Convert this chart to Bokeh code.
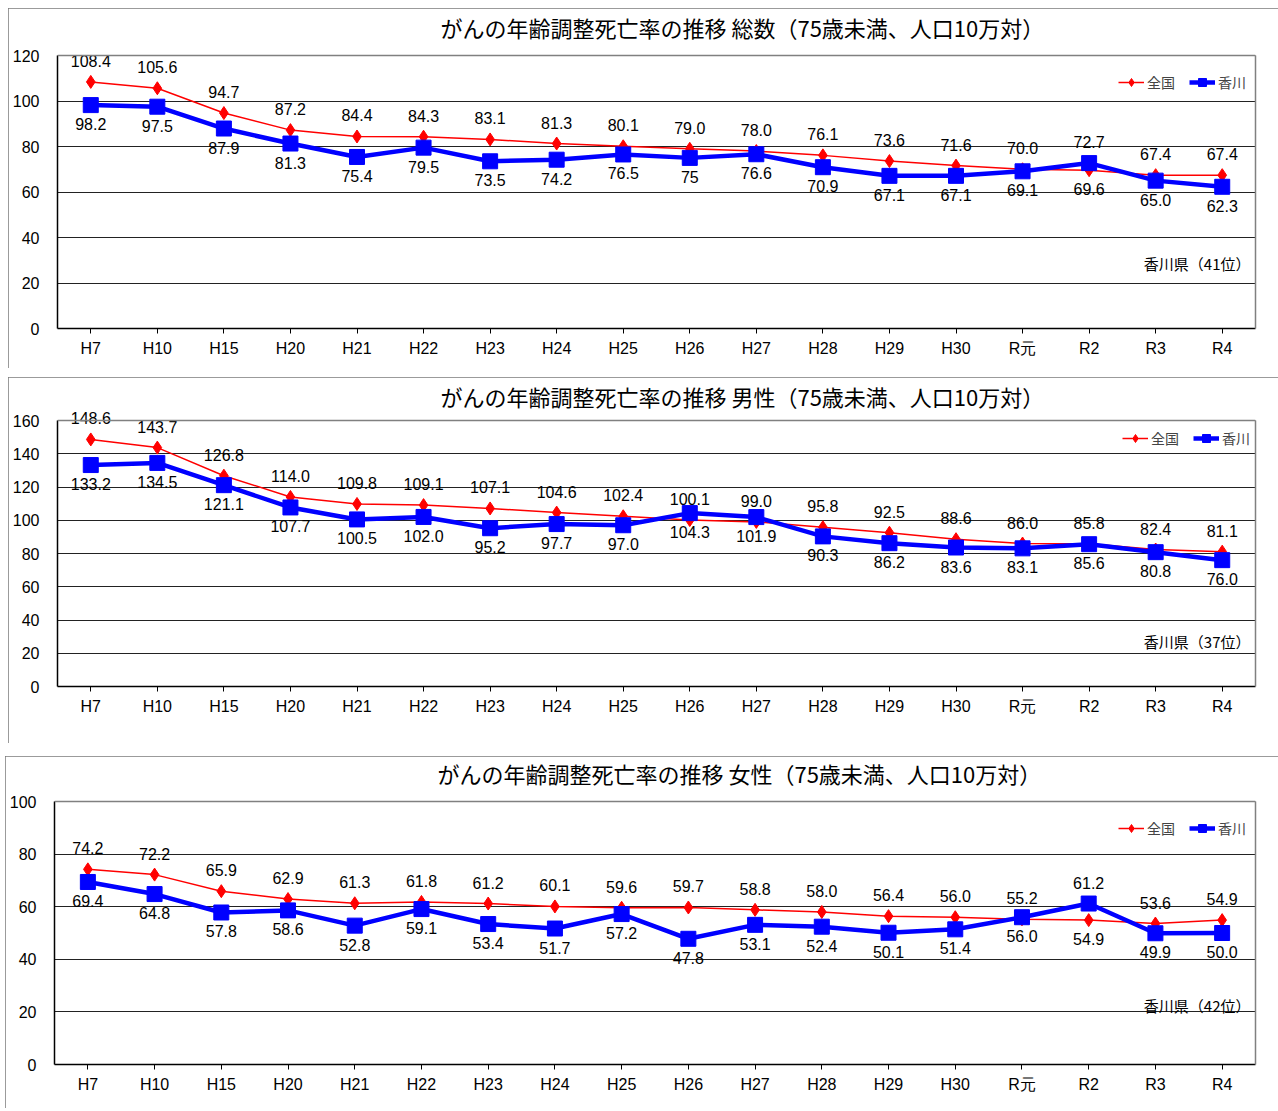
from bokeh.plotting import figure
from bokeh.models import (FactorRange, Range1d, Legend, LegendItem, Label,
                          ColumnDataSource, LinearAxis, FixedTicker, Span)
from bokeh.layouts import column
from bokeh.embed import file_html
from bokeh.resources import INLINE
from bokeh.core.properties import value

# ---------------- data ----------------
categories = ["H7", "H10", "H15", "H20", "H21", "H22", "H23", "H24", "H25",
              "H26", "H27", "H28", "H29", "H30", "R元", "R2", "R3", "R4"]

# 総数
national_total = [108.4, 105.6, 94.7, 87.2, 84.4, 84.3, 83.1, 81.3, 80.1,
                  79.0, 78.0, 76.1, 73.6, 71.6, 70.0, 69.6, 67.4, 67.4]
kagawa_total = [98.2, 97.5, 87.9, 81.3, 75.4, 79.5, 73.5, 74.2, 76.5,
                75.0, 76.6, 70.9, 67.1, 67.1, 69.1, 72.7, 65.0, 62.3]
# 男性
national_male = [148.6, 143.7, 126.8, 114.0, 109.8, 109.1, 107.1, 104.6, 102.4,
                 100.1, 99.0, 95.8, 92.5, 88.6, 86.0, 85.8, 82.4, 81.1]
kagawa_male = [133.2, 134.5, 121.1, 107.7, 100.5, 102.0, 95.2, 97.7, 97.0,
               104.3, 101.9, 90.3, 86.2, 83.6, 83.1, 85.6, 80.8, 76.0]
# 女性
national_female = [74.2, 72.2, 65.9, 62.9, 61.3, 61.8, 61.2, 60.1, 59.6,
                   59.7, 58.8, 58.0, 56.4, 56.0, 55.2, 54.9, 53.6, 54.9]
kagawa_female = [69.4, 64.8, 57.8, 58.6, 52.8, 59.1, 53.4, 51.7, 57.2,
                 47.8, 53.1, 52.4, 50.1, 51.4, 56.0, 61.2, 49.9, 50.0]

titles = ["がんの年齢調整死亡率の推移 総数（75歳未満、人口10万対）",
          "がんの年齢調整死亡率の推移 男性（75歳未満、人口10万対）",
          "がんの年齢調整死亡率の推移 女性（75歳未満、人口10万対）"]
rank_texts = ["香川県（41位）", "香川県（37位）", "香川県（42位）"]
rank_values = [28.6, 27.0, 22.4]
y_maxes = [120, 160, 100]
series_names = ["全国", "香川"]

NUM_FONT = "Liberation Sans"
CJK_FONT = "Noto Sans CJK JP"
RED = "#FF0000"
BLUE = "#0000FF"
TITLE_PANEL = 34  # height taken by the title above the frame (px)


def fmt(v):
    return f"{v:.1f}"


def make_panel(idx, nat, kag, width, height, mb_left, mb_right,
               inner_top, inner_h, swap_idx, text_overrides, legend_x,
               legend_center_from_top, title_offset, title_valign="bottom"):
    ymax = y_maxes[idx]
    headroom = inner_top - TITLE_PANEL
    yend = ymax + headroom * ymax / inner_h
    mb_bottom = height - inner_top - inner_h
    p = figure(x_range=FactorRange(factors=categories),
               y_range=Range1d(0, yend),
               width=width, height=height,
               output_backend="svg", toolbar_location=None,
               min_border_left=mb_left, min_border_right=mb_right,
               min_border_top=TITLE_PANEL, min_border_bottom=mb_bottom,
               background_fill_color="white", border_fill_color="white")
    p.title.text = titles[idx]
    p.title.align = "left"
    p.title.offset = title_offset
    p.title.text_font = CJK_FONT
    p.title.text_font_size = "22px"
    p.title.text_font_style = "normal"
    p.title.text_color = "#000000"
    p.title.standoff = 0
    p.title.vertical_align = title_valign

    p.outline_line_color = None
    p.xgrid.visible = False
    p.ygrid.grid_line_color = "#222222"
    p.ygrid.grid_line_width = 1

    p.yaxis.ticker = list(range(0, ymax + 1, 20))
    p.yaxis.bounds = (0, ymax)
    p.yaxis.major_tick_out = 0
    p.yaxis.major_tick_in = 0
    p.yaxis.minor_tick_out = 0
    p.yaxis.minor_tick_in = 0
    p.yaxis.major_label_standoff = 18
    p.yaxis.axis_line_color = "#000000"
    p.yaxis.axis_line_width = 1.5

    p.xaxis.major_tick_out = 5
    p.xaxis.major_tick_in = 0
    p.xaxis.major_label_standoff = 6
    p.xaxis.axis_line_color = "#000000"
    p.xaxis.axis_line_width = 1.5
    p.xaxis.major_tick_line_color = "#000000"

    for ax in (p.xaxis[0], p.yaxis[0]):
        ax.major_label_text_font = NUM_FONT
        ax.major_label_text_font_size = "16px"
        ax.major_label_text_color = "#000000"

    # plot-area border: gray line along the top value and the right side
    p.add_layout(Span(location=ymax, dimension="width",
                      line_color="#808080", line_width=1.5))
    right_axis = LinearAxis(bounds=(0, ymax), ticker=FixedTicker(ticks=[]),
                            axis_line_color="#808080", axis_line_width=1.5,
                            major_tick_line_color=None,
                            minor_tick_line_color=None,
                            major_label_text_font_size="0px")
    p.add_layout(right_axis, "right")

    src = ColumnDataSource(dict(x=categories, nat=nat, kag=kag))
    l_nat = p.line("x", "nat", source=src, line_color=RED, line_width=1.5)
    s_nat = p.scatter("x", "nat", source=src, marker="diamond", size=13,
                      fill_color=RED, line_color=RED)
    l_kag = p.line("x", "kag", source=src, line_color=BLUE, line_width=4.5)
    s_kag = p.scatter("x", "kag", source=src, marker="square", size=15,
                      fill_color=BLUE, line_color=BLUE)

    top_y, top_t, bot_y, bot_t = [], [], [], []
    for i in range(len(categories)):
        a, b = nat[i], kag[i]
        ta = text_overrides.get(("n", i), fmt(a))
        tb = text_overrides.get(("k", i), fmt(b))
        if i in swap_idx:
            top_y.append(b); top_t.append(tb); bot_y.append(a); bot_t.append(ta)
        else:
            top_y.append(a); top_t.append(ta); bot_y.append(b); bot_t.append(tb)
    lab_src = ColumnDataSource(dict(x=categories, ty=top_y, tt=top_t,
                                    by=bot_y, bt=bot_t))
    p.text("x", "ty", text="tt", source=lab_src, text_font=value(NUM_FONT),
           text_font_size="16px", text_align="center",
           text_baseline="middle", y_offset=-21, text_color="black")
    p.text("x", "by", text="bt", source=lab_src, text_font=value(NUM_FONT),
           text_font_size="16px", text_align="center",
           text_baseline="middle", y_offset=19, text_color="black")

    p.add_layout(Label(x=len(categories), y=rank_values[idx],
                       text=rank_texts[idx], x_offset=-5,
                       text_align="right", text_baseline="middle",
                       text_font=CJK_FONT, text_font_size="15px",
                       text_color="black"))

    legend = Legend(items=[LegendItem(label=series_names[0], renderers=[l_nat, s_nat]),
                           LegendItem(label=series_names[1], renderers=[l_kag, s_kag])],
                    orientation="horizontal",
                    location=(legend_x, inner_h - legend_center_from_top - 10),
                    border_line_color=None, background_fill_alpha=0,
                    label_text_font=CJK_FONT, label_text_font_size="14px",
                    glyph_width=26, glyph_height=20, label_height=20,
                    label_standoff=3, spacing=14, padding=0, margin=0)
    p.add_layout(legend)
    p.styles = {"outline": "1px solid #7a7a7a", "outline-offset": "-1px"}
    return p


p1 = make_panel(0, national_total, kagawa_total, 1270, 360, 49, 23, 47, 273,
                {15}, {("k", 9): "75"}, 1061, 27, 383)
p2 = make_panel(1, national_male, kagawa_male, 1270, 366, 49, 20, 43, 266,
                set(), {}, 1065, 18, 383)
p3 = make_panel(2, national_female, kagawa_female, 1273, 352, 49, 20, 45, 263,
                {15}, {}, 1064, 27, 383, "top")
p1.margin = (8, 0, 0, 8)
p2.margin = (9, 0, 0, 8)
p3.margin = (13, 0, 0, 5)

layout = column(p1, p2, p3, spacing=0)
open("out.html", "w").write(file_html(layout, INLINE))
